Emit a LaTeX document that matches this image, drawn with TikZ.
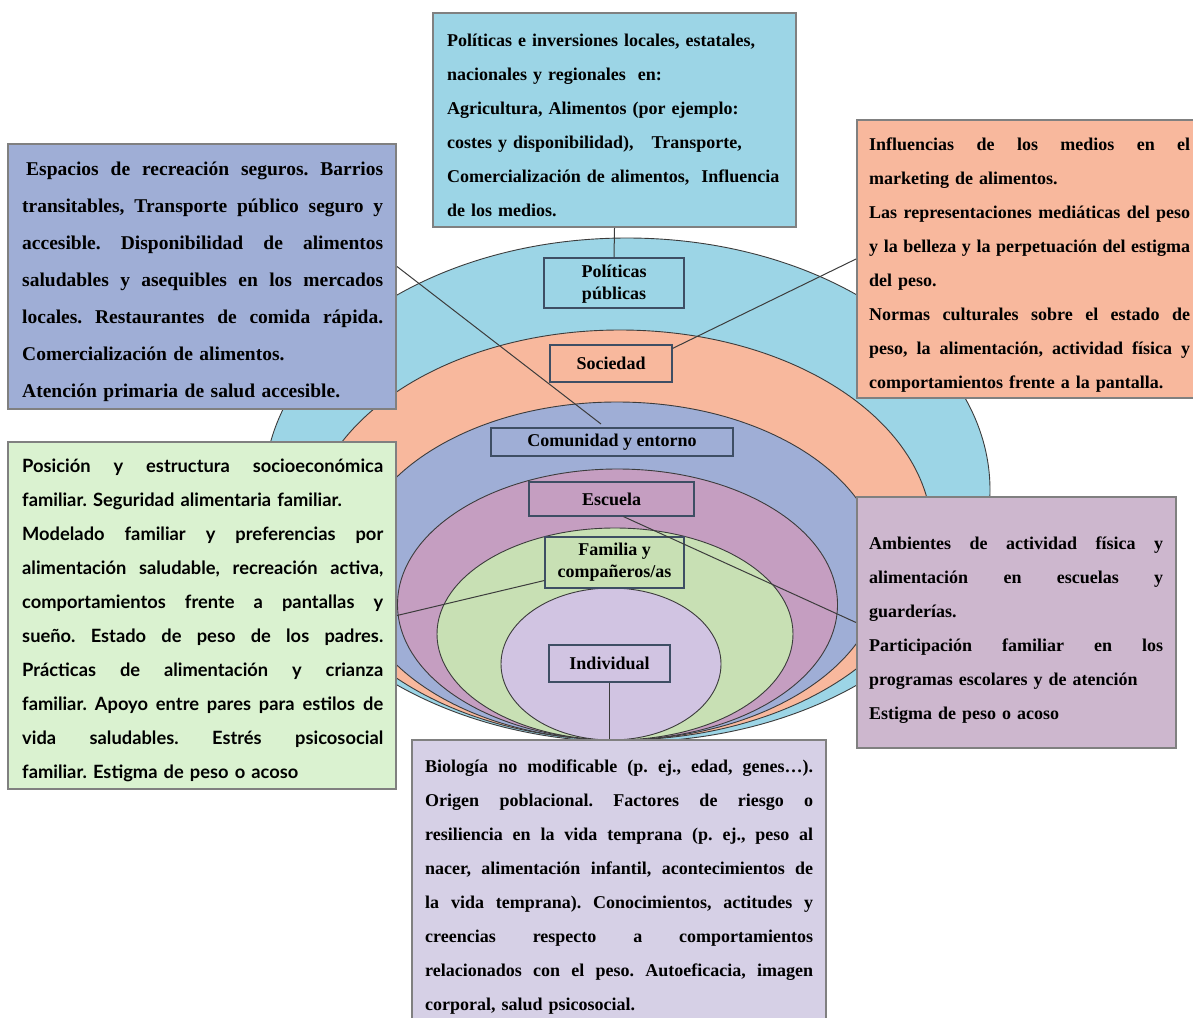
\documentclass[tikz,border=0pt]{standalone}
\usepackage{fontspec}
\setmainfont{Liberation Serif}
\newfontfamily\grnfont{Lato}
\usetikzlibrary{shapes.geometric}
\definecolor{cBlue}{RGB}{156,213,230}
\definecolor{cSalmon}{RGB}{248,184,157}
\definecolor{cPeri}{RGB}{159,174,214}
\definecolor{cMauve}{RGB}{197,158,193}
\definecolor{cGreen}{RGB}{200,224,180}
\definecolor{cLav}{RGB}{209,196,226}
\definecolor{cGreenBox}{RGB}{218,242,208}
\definecolor{cPurpleBox}{RGB}{205,183,206}
\definecolor{cBottomBox}{RGB}{214,208,230}
\definecolor{boxgray}{RGB}{128,128,128}
\definecolor{lblline}{RGB}{62,78,100}
\definecolor{ringline}{RGB}{60,60,60}
\newcommand\J[2]{\leavevmode{\spaceskip=0.25em plus 1fil\xspaceskip=\spaceskip\hbox to #1{#2}}}
\newcommand\FL{\rule{0pt}{20pt}}
\begin{document}
\begin{tikzpicture}[x=1pt,y=-1pt,
  ring/.style={ellipse, draw=ringline, line width=0.9pt, inner sep=0pt},
  bigbox/.style={rectangle, draw=boxgray, line width=2pt, inner sep=0pt},
  lbl/.style={rectangle, draw=lblline, line width=1.2pt, inner sep=0pt, align=center,
    font=\bfseries\fontsize{18}{22}\selectfont},
  txt/.style={anchor=north west, inner sep=0pt, align=left,
    font=\frenchspacing\bfseries\fontsize{18}{34}\selectfont},
  conn/.style={draw=ringline, line width=1pt}]
\useasboundingbox (0,0) rectangle (1193,1017);
% rings
\node[ring, fill=cBlue,   minimum width=726pt, minimum height=504pt] (eBlue)   at (627,490) {};
\node[ring, fill=cSalmon, minimum width=624pt, minimum height=410pt] (eSalmon) at (620,535) {};
\node[ring, fill=cPeri,   minimum width=530pt, minimum height=338pt] (ePeri)   at (617,571) {};
\node[ring, fill=cMauve,  minimum width=440pt, minimum height=271pt] (eMauve)  at (617.5,604.5) {};
\node[ring, fill=cGreen,  minimum width=356pt, minimum height=212pt] (eGreen)  at (615,634) {};
\node[ring, fill=cLav,    minimum width=220pt, minimum height=152pt] (eLav)    at (611,664) {};
% label boxes
\node[lbl, fill=cBlue,   minimum width=140pt, minimum height=50pt] (lPol) at (614,283) {\rule{0pt}{15pt}Políticas\\públicas};
\node[lbl, fill=cSalmon, minimum width=122pt, minimum height=37pt] (lSoc) at (611,363.5) {\raisebox{-2pt}{Sociedad}};
\node[lbl, fill=cPeri,   minimum width=242pt, minimum height=28pt] (lCom) at (612,442) {Comunidad y entorno};
\node[lbl, fill=cMauve,  minimum width=165pt, minimum height=34pt] (lEsc) at (611.5,499) {Escuela};
\node[lbl, fill=cGreen,  minimum width=139pt, minimum height=51pt] (lFam) at (614.5,562.5) {Familia y\\compañeros/as};
\node[lbl, fill=cLav,    minimum width=121pt, minimum height=37pt] (lInd) at (609.5,663.5) {\raisebox{-1pt}{Individual}};
\coordinate (cCom) at (601,424);
% big boxes
\node[bigbox, fill=cBlue, minimum width=363pt, minimum height=214pt] (bTop) at (614.5,120) {};
\node[bigbox, fill=cPeri, minimum width=388pt, minimum height=265pt] (bLeft) at (202,276.5) {};
\node[bigbox, fill=cSalmon, minimum width=343pt, minimum height=278pt] (bRight) at (1028.5,259) {};
\node[bigbox, fill=cGreenBox, minimum width=388pt, minimum height=347pt] (bGreen) at (202,615.5) {};
\node[bigbox, fill=cPurpleBox, minimum width=319pt, minimum height=251pt] (bPurple) at (1016.5,622.5) {};
\node[bigbox, fill=cBottomBox, minimum width=414pt, minimum height=290pt] (bBottom) at (619,885) {};
% connectors
\draw[conn] (bTop.south) -- (lPol.north);
\draw[conn] ([yshift=10pt]bLeft.east) -- (cCom);
\draw[conn] (bRight.west) -- ([yshift=-4pt]lSoc.north east);
\draw[conn] (bGreen.east) -- ([yshift=-18pt]lFam.west);
\draw[conn] ([xshift=12pt]lEsc.south) -- (bPurple.west);
\draw[conn] (lInd.south) -- (lInd.south |- bBottom.north);
% texts
\node[txt, text width=345pt] (tTop) at (447,26) {\FL Políticas e inversiones locales, estatales,\\
nacionales y regionales\ \ en:\\
Agricultura, Alimentos (por ejemplo:\\
costes y disponibilidad),\ \ \ Transporte,\\
Comercialización de alimentos,\ \ Influencia\\
de los medios.};
\node[txt, text width=361pt, font=\frenchspacing\bfseries\fontsize{19.5}{37}\selectfont] (tLeft) at (22,155) {\FL\J{361pt}{\hspace*{4pt}Espacios de recreación seguros. Barrios}\\
\J{361pt}{transitables, Transporte público seguro y}\\
\J{361pt}{accesible. Disponibilidad de alimentos}\\
\J{361pt}{saludables y asequibles en los mercados}\\
\J{361pt}{locales. Restaurantes de comida rápida.}\\
Comercialización de alimentos.\\
Atención primaria de salud accesible.};
\node[txt, text width=321pt] (tRight) at (869,130) {\FL\J{321pt}{Influencias de los medios en el}\\
marketing de alimentos.\\
\J{321pt}{Las representaciones mediáticas del peso}\\
\J{321pt}{y la belleza y la perpetuación del estigma}\\
del peso.\\
\J{321pt}{Normas culturales sobre el estado de}\\
\J{321pt}{peso, la alimentación, actividad física y}\\
comportamientos frente a la pantalla.};
\node[txt, text width=361pt, font=\frenchspacing\grnfont\bfseries\fontsize{18.3}{34}\selectfont] (tGreen) at (22,452) {\FL\J{361pt}{Posición y estructura socioeconómica}\\
familiar. Seguridad alimentaria familiar.\\
\J{361pt}{Modelado familiar y preferencias por}\\
\J{361pt}{alimentación saludable, recreación activa,}\\
\J{361pt}{comportamientos frente a pantallas y}\\
\J{361pt}{sueño. Estado de peso de los padres.}\\
\J{361pt}{Prácticas de alimentación y crianza}\\
\J{361pt}{familiar. Apoyo entre pares para estilos de}\\
\J{361pt}{vida saludables. Estrés psicosocial}\\
familiar. Estigma de peso o acoso};
\node[txt, text width=294pt] (tPurple) at (869,529) {\FL\J{294pt}{Ambientes de actividad física y}\\
\J{294pt}{alimentación en escuelas y}\\
guarderías.\\
\J{294pt}{Participación familiar en los}\\
programas escolares y de atención\\
Estigma de peso o acoso};
\node[txt, text width=388pt] (tBottom) at (425,752) {\FL\J{388pt}{Biología no modificable (p. ej., edad, genes…).}\\
\J{388pt}{Origen poblacional. Factores de riesgo o}\\
\J{388pt}{resiliencia en la vida temprana (p. ej., peso al}\\
\J{388pt}{nacer, alimentación infantil, acontecimientos de}\\
\J{388pt}{la vida temprana). Conocimientos, actitudes y}\\
\J{388pt}{creencias respecto a comportamientos}\\
\J{388pt}{relacionados con el peso. Autoeficacia, imagen}\\
corporal, salud psicosocial.};
\end{tikzpicture}
\end{document}
